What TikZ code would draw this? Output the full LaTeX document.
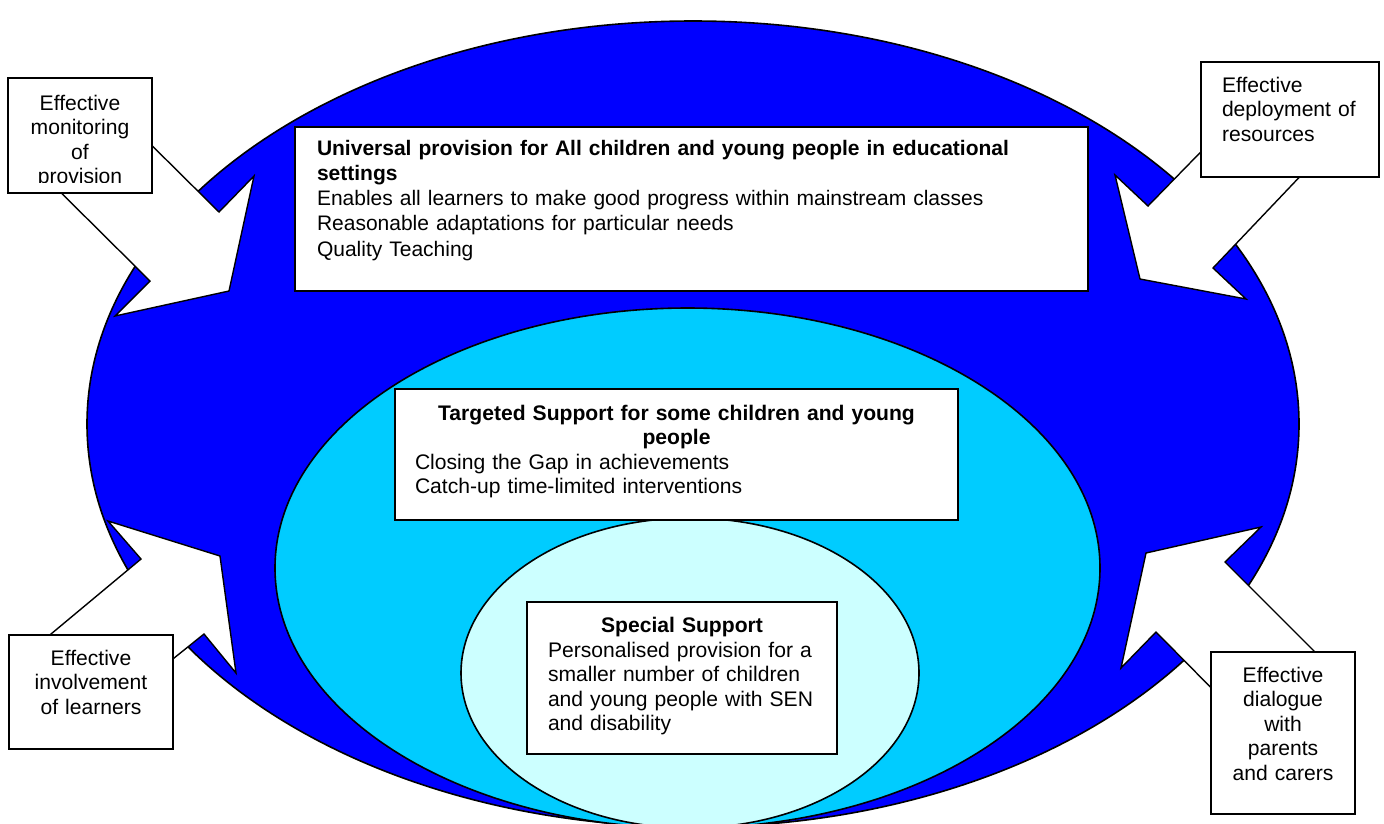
\documentclass[tikz,border=0pt]{standalone}
\usepackage{fontspec}
\setmainfont{Liberation Sans}
\definecolor{outerblue}{HTML}{0000FF}
\definecolor{midcyan}{HTML}{00CCFF}
\definecolor{innercyan}{HTML}{CCFFFF}
\tikzset{
  txt/.style={font=\fontsize{21.1}{24.5}\selectfont, inner sep=0pt, outer sep=0pt},
  unitxt/.style={font=\fontsize{21.0}{25.3}\selectfont, inner sep=0pt, outer sep=0pt},
  box/.style={draw=black, line width=1.4pt, fill=white, inner sep=0pt},
  blockarrow/.style={draw=black, line width=1.4pt, fill=white, line join=miter},
  ring/.style={draw=black, line width=1.6pt},
}
\begin{document}
\begin{tikzpicture}[x=1pt,y=-1pt]
\useasboundingbox (0,0) rectangle (1384,823);
\clip (0,0) rectangle (1384,823);
% outer ellipse
\path[ring, fill=outerblue] (693,424) ellipse [x radius=606pt, y radius=403pt];
% block arrows
\path[blockarrow] (113,107) -- (219,212) -- (254,176) -- (229,291) -- (115,316) -- (150,281) -- (21,153) -- cycle;
\path[blockarrow] (1230,122) -- (1148,206) -- (1115,175) -- (1140,279) -- (1246,299) -- (1213,268) -- (1328,147) -- cycle;
\path[blockarrow] (21,659) -- (141,559) -- (108,521) -- (220,556) -- (236,673) -- (204,634) -- (133,691) -- cycle;
\path[blockarrow] (1339,676) -- (1225,562) -- (1261,527) -- (1146,553) -- (1121,668) -- (1156,632) -- (1236,713) -- cycle;
% corner boxes
\node[box, minimum width=144pt, minimum height=115pt] (tl) at (80,135.5) {};
\begin{scope}
\clip (8,78) rectangle (152,182);
\node[txt, anchor=base, text width=144pt, align=center] (tltxt) at (80,110) {Effective\\monitoring\\of\\provision};
\end{scope}
\node[box, minimum width=178pt, minimum height=115pt] (tr) at (1290,119.5) {};
\node[txt, anchor=base west, text width=160pt, align=left] (trtxt) at (1222,92) {Effective\\deployment of\\resources};
\node[box, minimum width=164pt, minimum height=114pt] (bl) at (91,692) {};
\node[txt, anchor=base, text width=164pt, align=center] (bltxt) at (91,665) {Effective\\involvement\\of learners};
\node[box, minimum width=144pt, minimum height=162pt] (br) at (1283,733) {};
\node[txt, anchor=base, text width=144pt, align=center] (brtxt) at (1283,682) {Effective\\dialogue\\with\\parents\\and carers};
% inner ellipses
\path[ring, fill=midcyan] (687.5,568) ellipse [x radius=412.5pt, y radius=260pt];
\path[ring, fill=innercyan] (690,673) ellipse [x radius=229pt, y radius=155pt];
% central boxes
\node[box, minimum width=793pt, minimum height=164pt] (uni) at (691.5,209) {};
\node[unitxt, anchor=base west, text width=760pt, align=left] (unitxt) at (317,155) {\textbf{Universal provision for All children and young people in educational}\\\textbf{settings}\\Enables all learners to make good progress within mainstream classes\\Reasonable adaptations for particular needs\\Quality Teaching};
\node[box, minimum width=563pt, minimum height=131pt] (tgt) at (676.5,454.5) {};
\node[txt, anchor=base, text width=563pt, align=center] (tgttitle) at (676.5,420) {\textbf{Targeted Support for some children and young}\\\textbf{people}};
\node[txt, anchor=base west, text width=520pt, align=left] (tgttxt) at (415,469) {Closing the Gap in achievements\\Catch-up time-limited interventions};
\node[box, minimum width=310pt, minimum height=152pt] (sp) at (682,678) {};
\node[txt, anchor=base, text width=310pt, align=center] (sptitle) at (682,632) {\textbf{Special Support}};
\node[txt, anchor=base west, text width=285pt, align=left] (sptxt) at (548,657) {Personalised provision for a\\smaller number of children\\and young people with SEN\\and disability};
\end{tikzpicture}
\end{document}
